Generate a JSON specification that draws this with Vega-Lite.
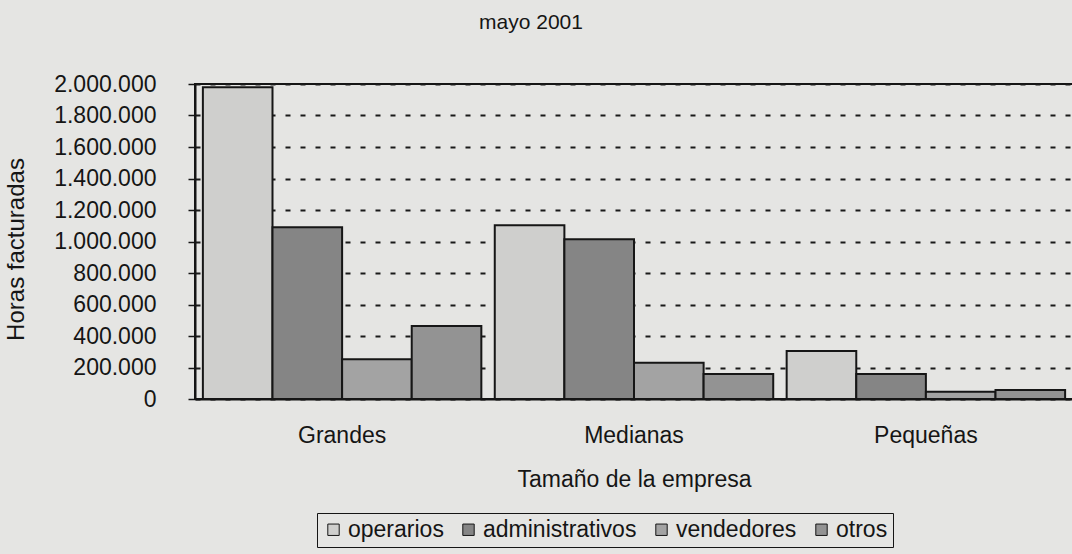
{
  "$schema": "https://vega.github.io/schema/vega-lite/v6.json",
  "width": 878,
  "height": 315,
  "autosize": {"type": "none"},
  "padding": {"left": 195, "top": 84, "right": 0, "bottom": 155},
  "background": "#e5e5e3",
  "title": {
    "text": "mayo 2001",
    "font": "Liberation Sans",
    "fontSize": 21,
    "fontWeight": "normal",
    "color": "#151515",
    "frame": "group",
    "anchor": "middle",
    "offset": 40,
    "dx": -103
  },
  "data": {
    "values": [
      {"tamano": "Grandes", "tipo": "operarios", "horas": 1980000},
      {"tamano": "Grandes", "tipo": "administrativos", "horas": 1090000},
      {"tamano": "Grandes", "tipo": "vendedores", "horas": 252000},
      {"tamano": "Grandes", "tipo": "otros", "horas": 463000},
      {"tamano": "Medianas", "tipo": "operarios", "horas": 1103000},
      {"tamano": "Medianas", "tipo": "administrativos", "horas": 1014000},
      {"tamano": "Medianas", "tipo": "vendedores", "horas": 230000},
      {"tamano": "Medianas", "tipo": "otros", "horas": 159000},
      {"tamano": "Pequeñas", "tipo": "operarios", "horas": 305000},
      {"tamano": "Pequeñas", "tipo": "administrativos", "horas": 159000},
      {"tamano": "Pequeñas", "tipo": "vendedores", "horas": 46000},
      {"tamano": "Pequeñas", "tipo": "otros", "horas": 57000}
    ]
  },
  "mark": {"type": "bar", "stroke": "#161616", "strokeWidth": 2},
  "encoding": {
    "x": {
      "field": "tamano",
      "type": "nominal",
      "sort": ["Grandes", "Medianas", "Pequeñas"],
      "scale": {"paddingInner": 0.046, "paddingOuter": 0.027},
      "axis": {
        "title": "Tamaño de la empresa",
        "labelAngle": 0,
        "labelFontSize": 23,
        "labelColor": "#151515",
        "labelPadding": 25,
        "ticks": false,
        "domainColor": "#151515",
        "domainWidth": 2,
        "titleFontSize": 23,
        "titleFontWeight": "normal",
        "titleColor": "#151515",
        "titlePadding": 21
      }
    },
    "xOffset": {
      "field": "tipo",
      "sort": ["operarios", "administrativos", "vendedores", "otros"],
      "scale": {"paddingInner": 0, "paddingOuter": 0}
    },
    "y": {
      "field": "horas",
      "type": "quantitative",
      "scale": {"domain": [0, 2000000], "nice": false},
      "axis": {
        "title": "Horas facturadas",
        "values": [0, 200000, 400000, 600000, 800000, 1000000, 1200000, 1400000, 1600000, 1800000, 2000000],
        "format": ",d",
        "labelFontSize": 23,
        "labelColor": "#151515",
        "labelPadding": 32,
        "tickSize": 7,
        "tickColor": "#151515",
        "tickWidth": 1.5,
        "domainColor": "#151515",
        "domainWidth": 2,
        "grid": true,
        "gridColor": "#1a1a1a",
        "gridWidth": 2,
        "gridDash": [5, 10],
        "titleFontSize": 24,
        "titleFontWeight": "normal",
        "titleColor": "#151515",
        "titlePadding": 25,
        "titleY": 165
      }
    },
    "color": {
      "field": "tipo",
      "type": "nominal",
      "scale": {
        "domain": ["operarios", "administrativos", "vendedores", "otros"],
        "range": ["#cfcfcd", "#858585", "#a3a3a3", "#939393"]
      },
      "legend": {
        "title": null,
        "orient": "none",
        "direction": "horizontal",
        "legendX": 122,
        "legendY": 429,
        "symbolType": "square",
        "symbolSize": 130,
        "symbolStrokeColor": "#151515",
        "symbolStrokeWidth": 1,
        "symbolOpacity": 1,
        "labelFontSize": 23,
        "labelColor": "#151515",
        "labelOffset": 3,
        "columnPadding": 13,
        "padding": 5,
        "strokeColor": "#151515"
      }
    }
  },
  "config": {
    "font": "Liberation Sans",
    "locale": {
      "number": {"decimal": ",", "thousands": ".", "grouping": [3], "currency": ["", " €"]}
    },
    "view": {"stroke": "#151515", "strokeWidth": 2}
  }
}
